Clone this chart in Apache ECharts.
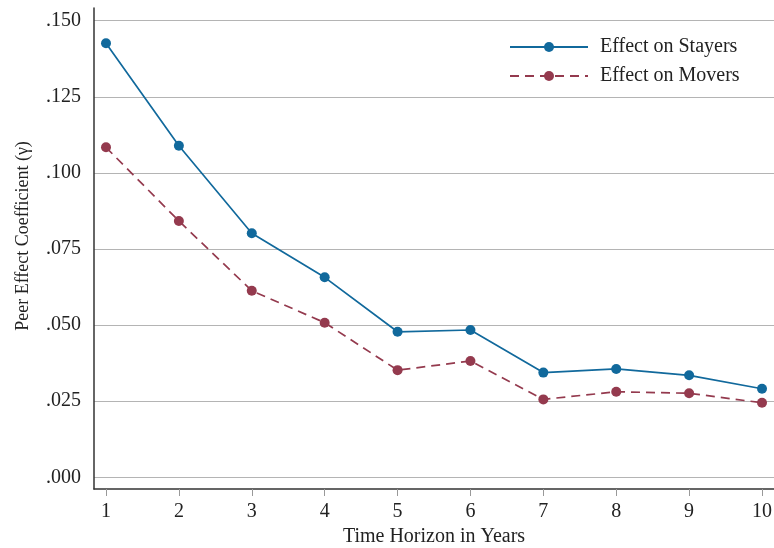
<!DOCTYPE html>
<html>
<head>
<meta charset="utf-8">
<script src="https://cdn.jsdelivr.net/npm/echarts@6/dist/echarts.min.js"></script>
<style>html,body{margin:0;padding:0;background:#fff}#c{width:774px;height:548px}</style>
</head>
<body>
<div id="c"></div>
<script>
var years = [1, 2, 3, 4, 5, 6, 7, 8, 9, 10];
var stayers = [0.1426, 0.1089, 0.0802, 0.0657, 0.0478, 0.0484, 0.0344, 0.0356, 0.0335, 0.0291];
var movers = [0.1084, 0.0842, 0.0613, 0.0508, 0.0352, 0.0382, 0.0256, 0.0281, 0.0276, 0.0245];
var yTicks = [0, 0.025, 0.05, 0.075, 0.1, 0.125, 0.15];
var xTicks = [1, 2, 3, 4, 5, 6, 7, 8, 9, 10];
var seriesNames = ['Effect on Stayers', 'Effect on Movers'];
var xTitle = 'Time Horizon in Years';
var yTitle = 'Peer Effect Coefficient (\u03b3)';

var FONT = 'Liberation Serif';
var chart = echarts.init(document.getElementById('c'), null, {renderer: 'canvas'});
function pairs(vals) { return years.map(function (x, i) { return [x, vals[i]]; }); }

chart.setOption({
  animation: false,
  backgroundColor: '#ffffff',
  textStyle: {fontFamily: FONT},
  grid: {left: 94, right: 0, top: 8, bottom: 59, containLabel: false, outerBoundsMode: 'none'},
  legend: {
    orient: 'vertical', left: 509, top: 37, padding: 0, itemGap: 9,
    itemWidth: 78, itemHeight: 12.5,
    textStyle: {fontFamily: FONT, fontSize: 20, color: '#222', padding: [0, 0, 0, 7], lineHeight: 20},
    data: seriesNames
  },
  xAxis: {
    type: 'value', min: 0.8354, max: 10.1646,
    name: xTitle, nameLocation: 'middle', nameGap: 38,
    nameTextStyle: {fontFamily: FONT, fontSize: 20, color: '#222'},
    axisLine: {show: true, onZero: false, lineStyle: {color: '#333', width: 1.5}},
    axisTick: {show: true, length: 7, lineStyle: {color: '#999', width: 1}, customValues: xTicks},
    axisLabel: {fontFamily: FONT, fontSize: 20, color: '#222', margin: 13, customValues: xTicks},
    splitLine: {show: false}
  },
  yAxis: {
    type: 'value', min: -0.00384, max: 0.15417,
    name: yTitle, nameLocation: 'middle', nameGap: 62,
    nameTextStyle: {fontFamily: FONT, fontSize: 18, color: '#222', padding: [0, 0, 0, 25]},
    axisLine: {show: true, onZero: false, lineStyle: {color: '#333', width: 1.5}},
    axisTick: {show: false, customValues: yTicks},
    axisLabel: {fontFamily: FONT, fontSize: 20, color: '#222', margin: 13, customValues: yTicks,
      formatter: function (v) { return v.toFixed(3).replace(/^0/, ''); }},
    splitLine: {show: true, lineStyle: {color: '#b4b4b4', width: 1.2}}
  },
  series: [
    {
      name: seriesNames[0], type: 'line', data: pairs(stayers),
      symbol: 'circle', symbolSize: 10,
      itemStyle: {color: '#11699c'},
      lineStyle: {color: '#11699c', width: 1.7}
    },
    {
      name: seriesNames[1], type: 'line', data: pairs(movers),
      symbol: 'circle', symbolSize: 10,
      itemStyle: {color: '#943a4e'},
      lineStyle: {color: '#943a4e', width: 1.7, type: [9, 6]}
    }
  ]
});
</script>
</body>
</html>
